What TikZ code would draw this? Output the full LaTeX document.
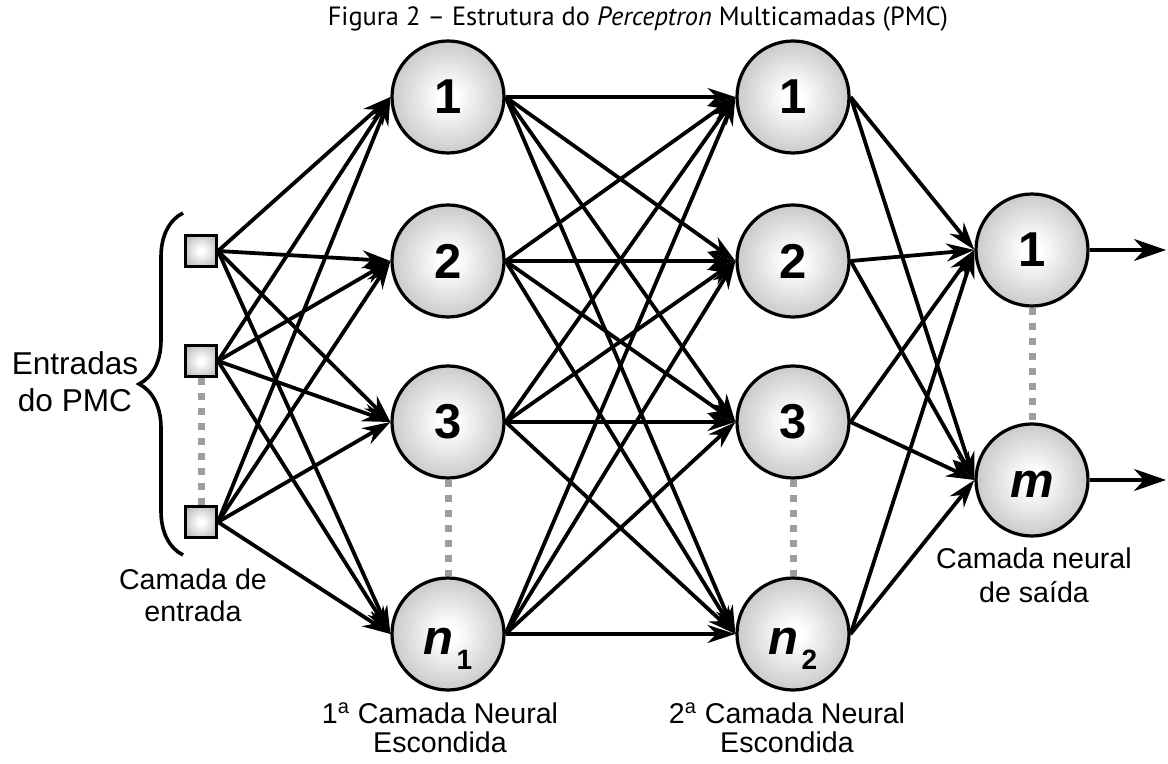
\documentclass[tikz,border=0pt]{standalone}
\usepackage{fontspec}
\setmainfont{Liberation Sans}
\newfontfamily\titlefont{PT Sans}
\usepackage{tikz}
\usetikzlibrary{arrows.meta,decorations.pathreplacing}

\pgfdeclareradialshading{neuronball}{\pgfpoint{0bp}{0bp}}{%
  color(0bp)=(white); color(4bp)=(white); color(50bp)=(black!45); color(72bp)=(black!45)}

\tikzset{
  neuron/.style={circle, draw=black, line width=1.6pt, minimum size=56pt, inner sep=0pt,
    shading=neuronball, font=\fontsize{24.5}{24.5}\selectfont\bfseries},
  inbox/.style={rectangle, draw=black, line width=1.5pt, minimum size=15.5pt, inner sep=0pt,
    shading=neuronball},
  syn/.style={line width=1.9pt, -{Stealth[length=14pt,width=9pt,inset=4.5pt]}},
  outarr/.style={line width=1.9pt, -{Stealth[length=16pt,width=11pt,inset=5pt]}},
  gapdots/.style={draw=black!38, line width=3.5pt, dash pattern=on 3.5pt off 4pt},
  lbl/.style={font=\fontsize{14.3}{16}\selectfont, align=center},
}
\newcommand{\subidx}[1]{{\upshape\kern1.5pt\fontsize{14}{14}\selectfont\raisebox{-7.5pt}{#1}}}

\begin{document}
\begin{tikzpicture}[x=0.5pt,y=-0.5pt,>=Stealth]
  \useasboundingbox (0,0) rectangle (1168,764);

  % title
  \node (title) at (638,19) {\titlefont\fontsize{13.2}{15}\selectfont Figura 2 – Estrutura do \textit{Perceptron} Multicamadas (PMC)};

  % entradas
  \node[inbox] (in-1) at (201,251) {};
  \node[inbox] (in-2) at (201,361) {};
  \node[inbox] (in-3) at (201,522) {};

  % camadas escondidas
  \foreach \k/\xx in {1/448,2/793}{
    \node[neuron] (h\k-1) at (\xx,97) {1};
    \node[neuron] (h\k-2) at (\xx,261) {2};
    \node[neuron] (h\k-3) at (\xx,422) {3};
    \node[neuron, text height=20pt, text depth=0pt] (h\k-4) at (\xx,634) {\itshape n\subidx{\k}};
  }

  % saida
  \node[neuron] (out-1) at (1032,250) {1};
  \node[neuron, text height=18pt, text depth=0pt] (out-2) at (1032,480) {\itshape m};

  % ligacoes
  \foreach \i in {1,2,3}
    \foreach \j in {1,...,4}
      \draw[syn] (in-\i.east) -- (h1-\j.west);
  \foreach \i in {1,...,4}
    \foreach \j in {1,...,4}
      \draw[syn] (h1-\i.east) -- (h2-\j.west);
  \foreach \i in {1,...,4}
    \foreach \j in {1,2}
      \draw[syn] (h2-\i.east) -- (out-\j.west);

  \coordinate (y-1) at (1166,250);
  \coordinate (y-2) at (1166,480);
  \draw[outarr] (out-1.east) -- (y-1);
  \draw[outarr] (out-2.east) -- (y-2);

  % pontilhados
  \draw[gapdots] (in-2.south) -- (in-3.north);
  \draw[gapdots] (h1-3.south) -- (h1-4.north);
  \draw[gapdots] (h2-3.south) -- (h2-4.north);
  \draw[gapdots] (out-1.south) -- (out-2.north);

  % chave
  \coordinate (brace-bot) at (183,555);
  \coordinate (brace-top) at (183,213);
  \draw[line width=1.8pt, decorate, decoration={brace, amplitude=22pt}] (brace-bot) -- (brace-top);

  % rotulos
  \node[lbl, font=\fontsize{15.8}{18.5}\selectfont] (lbl-in) at (75,382) {Entradas\\do PMC};
  \node[lbl] (lbl-cin) at (193,595) {Camada de\\entrada};
  \node[lbl, font=\fontsize{14.3}{14.5}\selectfont] (lbl-h1) at (440,728) {1\textsuperscript{a} Camada Neural\\Escondida};
  \node[lbl, font=\fontsize{14.3}{14.5}\selectfont] (lbl-h2) at (787,728) {2\textsuperscript{a} Camada Neural\\Escondida};
  \node[lbl, font=\fontsize{14.3}{17}\selectfont] (lbl-out) at (1034,575) {Camada neural\\de saída};
\end{tikzpicture}
\end{document}
